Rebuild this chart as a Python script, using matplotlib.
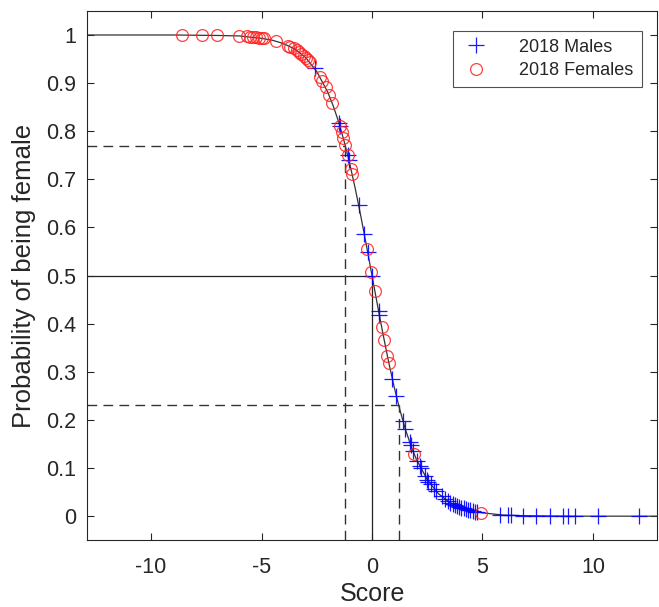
import matplotlib
matplotlib.use('Agg')
import matplotlib.pyplot as plt

plt.rcParams['font.family'] = ['Liberation Sans', 'DejaVu Sans']
plt.rcParams['axes.unicode_minus'] = False

# scores and fitted probabilities
male_score = [-2.6, -1.5, -1.45, -1.1, -1.05, -0.6, -0.35, -0.2, 0.0, 0.3, 0.33,
              0.92, 1.1, 1.4, 1.5, 1.7, 1.75, 1.85, 2.05, 2.15, 2.2, 2.4, 2.5,
              2.55, 2.65, 2.8, 2.9, 3.15, 3.3, 3.45, 3.55, 3.65, 3.75, 3.85,
              3.95, 4.05, 4.15, 4.25, 4.35, 4.45, 4.55, 4.65, 4.75, 5.8, 6.15,
              6.3, 6.85, 7.4, 8.05, 8.65, 8.85, 9.2, 10.25, 12.1]
male_prob = [0.931, 0.818, 0.810, 0.750, 0.741, 0.646, 0.587, 0.550, 0.500, 0.426, 0.418,
             0.285, 0.250, 0.198, 0.182, 0.154, 0.148, 0.136, 0.114, 0.104, 0.100, 0.083, 0.076,
             0.072, 0.066, 0.057, 0.052, 0.041, 0.036, 0.031, 0.028, 0.025, 0.023, 0.021,
             0.019, 0.017, 0.016, 0.014, 0.013, 0.012, 0.010, 0.009, 0.009, 0.003, 0.002,
             0.002, 0.001, 0.001, 0.000, 0.000, 0.000, 0.000, 0.000, 0.000]

female_score = [-8.6, -7.7, -7.0, -6.0, -5.65, -5.5, -5.4, -5.25, -5.1, -5.0, -4.9,
                -4.35, -3.8, -3.7, -3.55, -3.4, -3.3, -3.2, -3.1, -3.0, -2.9, -2.8,
                -2.35, -2.25, -2.1, -1.95, -1.8, -1.45, -1.38, -1.3, -1.22, -1.1,
                -0.95, -0.9, -0.22, -0.03, 0.13, 0.43, 0.55, 0.7, 0.76, 1.9, 4.95]
female_prob = [1.000, 1.000, 0.999, 0.998, 0.997, 0.996, 0.996, 0.995, 0.994, 0.993, 0.993,
               0.987, 0.978, 0.976, 0.972, 0.968, 0.964, 0.961, 0.957, 0.953, 0.948, 0.943,
               0.913, 0.905, 0.891, 0.875, 0.858, 0.810, 0.799, 0.786, 0.772, 0.750,
               0.721, 0.711, 0.555, 0.508, 0.468, 0.394, 0.366, 0.332, 0.319, 0.130, 0.007]

# fitted curve, read at points along the line
curve_x = [-12.9, -9, -7, -6, -5, -4.5, -4, -3.5, -3, -2.5, -2, -1.75, -1.5, -1.25,
           -1, -0.75, -0.5, -0.25, 0, 0.25, 0.5, 0.75, 1, 1.25, 1.5, 1.75, 2, 2.5,
           3, 3.5, 4, 4.5, 5, 6, 7, 9, 12.9]
curve_y = [1.000, 1.000, 0.999, 0.998, 0.993, 0.989, 0.982, 0.971, 0.953, 0.924, 0.881,
           0.852, 0.818, 0.777, 0.731, 0.679, 0.622, 0.562, 0.500, 0.438, 0.378, 0.321,
           0.269, 0.223, 0.182, 0.148, 0.119, 0.076, 0.047, 0.029, 0.018, 0.011, 0.007,
           0.002, 0.001, 0.000, 0.000]

# cut-off guides
mid_x, mid_p = 0.0, 0.5
lo_x, hi_x = -1.2, 1.2
hi_p, lo_p = 0.77, 0.23

xmin, xmax = -12.9, 12.9
ymin, ymax = -0.05, 1.05

fig = plt.figure(figsize=(6.59, 6.07), dpi=100)
ax = fig.add_axes([0.132, 0.110, 0.865, 0.872])

dash = (0, (7, 4.5))
ax.plot([xmin, mid_x], [mid_p, mid_p], color='#222222', lw=0.9)
ax.plot([mid_x, mid_x], [ymin, mid_p], color='#222222', lw=0.9)
ax.plot([xmin, lo_x], [hi_p, hi_p], color='#333333', lw=1.0, ls=dash)
ax.plot([lo_x, lo_x], [ymin, hi_p], color='#333333', lw=1.0, ls=dash)
ax.plot([xmin, hi_x], [lo_p, lo_p], color='#333333', lw=1.0, ls=dash)
ax.plot([hi_x, hi_x], [ymin, lo_p], color='#333333', lw=1.0, ls=dash)

ax.plot(curve_x, curve_y, color='#333333', lw=0.9)

ax.plot(male_score, male_prob, '+', color='#0000ff', ms=11, mew=0.9,
        label='2018 Males', alpha=0.9)
ax.plot(female_score, female_prob, 'o', mfc='none', mec='#ff2020', ms=8.5,
        mew=0.9, label='2018 Females', alpha=0.85)

ax.set_xlim(xmin, xmax)
ax.set_ylim(ymin, ymax)
ax.set_xticks([-10, -5, 0, 5, 10])
ax.set_yticks([0, 0.1, 0.2, 0.3, 0.4, 0.5, 0.6, 0.7, 0.8, 0.9, 1])
ax.set_yticklabels(['0', '0.1', '0.2', '0.3', '0.4', '0.5', '0.6', '0.7', '0.8', '0.9', '1'])

ax.tick_params(direction='in', top=True, right=True, length=5, width=0.8,
               colors='#262626', labelsize=15.5)
ax.tick_params(axis='x', pad=12)
ax.tick_params(axis='y', pad=8)
for s in ax.spines.values():
    s.set_color('#262626')
    s.set_linewidth(0.8)

ax.set_xlabel('Score', fontsize=18, color='#262626', labelpad=3)
ax.set_ylabel('Probability of being female', fontsize=18.5, color='#262626', labelpad=7)

leg = ax.legend(loc='upper right', bbox_to_anchor=(0.973, 0.963), fontsize=13,
                frameon=True, fancybox=False, edgecolor='#262626',
                handlelength=1.6, handletextpad=1.6, borderpad=0.45,
                labelspacing=0.35, borderaxespad=0)
leg.get_frame().set_linewidth(0.8)
for t in leg.get_texts():
    t.set_color('#262626')

fig.savefig('out.png', dpi=100)
